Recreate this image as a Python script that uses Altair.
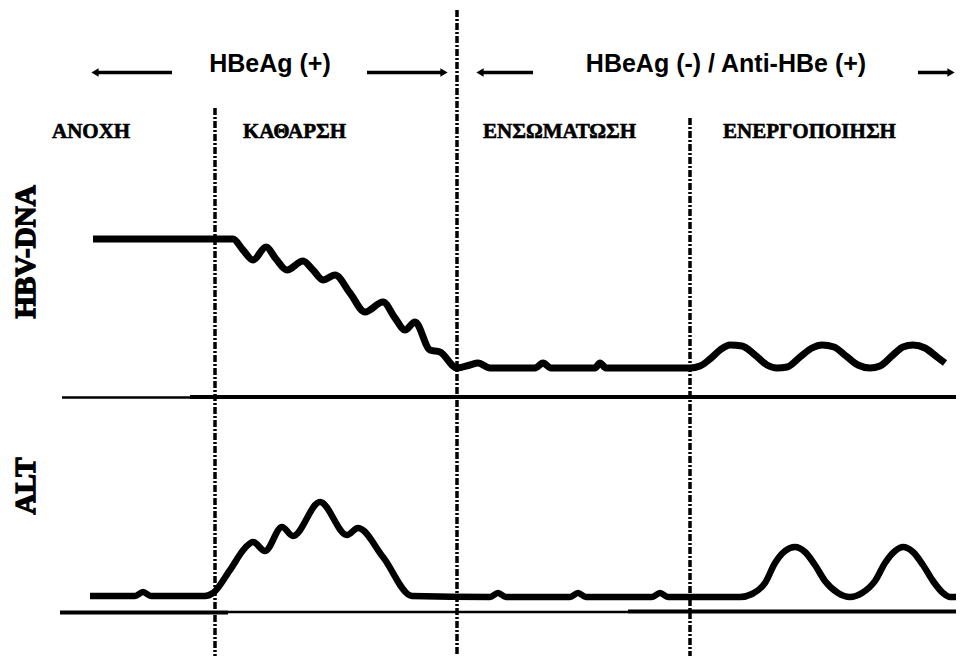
import altair as alt
import pandas as pd

# ---------------- data ----------------
# time axis in arbitrary units; level = height above each panel's baseline
hbv_t = [93, 233, 243, 253, 266, 276, 287, 303, 313, 323, 335, 350, 365, 383, 395,
         405, 415, 430, 440, 457, 470, 478, 490, 535, 543, 551, 595, 600, 606, 690,
         700, 710, 720, 730, 742, 755, 767, 777, 787, 800, 812, 822, 834, 846, 858,
         870, 880, 893, 903, 913, 925, 937, 945]
hbv_level = [158, 158, 147, 137, 150, 138, 127, 136, 127, 117, 122, 104, 85, 95, 79,
             67, 75, 47, 45, 29, 32, 34, 29, 29, 34, 29, 29, 34, 29, 29,
             31, 38, 47, 52, 51, 42, 32, 29, 30, 40, 49, 52, 50, 41, 32,
             29, 31, 42, 50, 52, 49, 40, 34]

alt_t = [90, 135, 143, 151, 205, 213, 230, 245, 253, 265, 282, 293, 320, 347, 358,
         383, 412, 490, 498, 506, 570, 578, 586, 652, 660, 668, 740, 752, 765, 775,
         785, 795, 805, 815, 825, 838, 850, 862, 875, 885, 895, 903, 913, 923, 933,
         943, 950, 964]
alt_level = [17, 17, 21, 17, 17, 20, 43, 65, 71, 62, 86, 77, 111, 78, 85,
             56, 17, 16, 20, 16, 16, 20, 16, 16, 20, 16, 16, 19, 30, 50,
             62, 66, 61, 48, 32, 20, 16, 20, 32, 50, 62, 66, 61, 48, 32,
             20, 16, 16]

phase_bounds = [215, 457, 690]
phase_names = ["ΑΝΟΧΗ", "ΚΑΘΑΡΣΗ", "ΕΝΣΩΜΑΤΩΣΗ", "ΕΝΕΡΓΟΠΟΙΗΣΗ"]
serology = ["HBeAg (+)", "HBeAg (-) / Anti-HBe (+)"]
panel_names = ["HBV-DNA", "ALT"]

# ---------------- layout helpers ----------------
W, H = 948, 648
TOP = 668 - 8
BOT = TOP - H
def Y(page_y):
    return 668 - page_y

HBV_BASE = Y(397)
ALT_BASE = Y(613)

xs = alt.Scale(domain=[8, 8 + W], nice=False, zero=False)
ys = alt.Scale(domain=[BOT, TOP], nice=False, zero=False)

def X_(f):
    return alt.X(f, type="quantitative", scale=xs, axis=None)
def Y_(f):
    return alt.Y(f, type="quantitative", scale=ys, axis=None)

hbv_df = pd.DataFrame({"t": hbv_t, "level": hbv_level})
hbv_df["y"] = hbv_df["level"] + HBV_BASE
alt_df = pd.DataFrame({"t": alt_t, "level": alt_level})
alt_df["y"] = alt_df["level"] + ALT_BASE

hbv_line = alt.Chart(hbv_df).mark_line(color="black", strokeWidth=7, interpolate="monotone",
                                       strokeJoin="round").encode(x=X_("t"), y=Y_("y"))
alt_line = alt.Chart(alt_df).mark_line(color="black", strokeWidth=6.5, interpolate="monotone",
                                       strokeJoin="round").encode(x=X_("t"), y=Y_("y"))

# phase boundaries (dashed)
vb = pd.DataFrame({"x": phase_bounds, "y1": [Y(108), Y(10), Y(118)], "y2": [BOT] * 3})
vlines = alt.Chart(vb).mark_rule(color="black", strokeWidth=3.5, strokeDash=[7, 2, 2, 2]).encode(
    x=X_("x"), y=Y_("y1"), y2="y2:Q")

# baselines
def hrule(x1, x2, yy, w):
    d = pd.DataFrame({"x1": [x1], "x2": [x2], "y": [yy]})
    return alt.Chart(d).mark_rule(color="black", strokeWidth=w).encode(x=X_("x1"), x2="x2:Q", y=Y_("y"))

base_rules = [
    hrule(62, 190, Y(397.5), 2.5), hrule(190, 964, Y(397), 4),
    hrule(60, 228, Y(612.5), 4), hrule(228, 628, Y(612), 2.5), hrule(628, 964, Y(611.5), 4),
]

# arrows
def shaft(x1, x2, yy):
    d = pd.DataFrame({"x1": [x1], "x2": [x2], "y": [yy]})
    return alt.Chart(d).mark_rule(color="black", strokeWidth=3.5).encode(x=X_("x1"), x2="x2:Q", y=Y_("y"))

def head(x, yy, shape):
    d = pd.DataFrame({"x": [x], "y": [yy]})
    return alt.Chart(d).mark_point(shape=shape, filled=True, color="black", opacity=1, size=70).encode(
        x=X_("x"), y=Y_("y"))

AY = Y(72.5)
arrows = [
    shaft(96, 172, AY), head(95, AY, "triangle-left"),
    shaft(367, 443, AY), head(444, AY, "triangle-right"),
    shaft(480, 533, AY), head(480, AY, "triangle-left"),
    shaft(918, 950, AY), head(951, AY, "triangle-right"),
]

# texts
def label(text, x, yy, size, font, align="center", baseline="alphabetic", angle=0, sw=0.0):
    d = pd.DataFrame({"x": [x], "y": [yy], "txt": [text]})
    kw = dict(fontSize=size, font=font, fontWeight="bold", color="black", align=align, baseline=baseline)
    if angle:
        kw["angle"] = angle
    if sw:
        kw["stroke"] = "black"
        kw["strokeWidth"] = sw
    return alt.Chart(d).mark_text(**kw).encode(x=X_("x"), y=Y_("y"), text="txt:N")

texts = [
    label(serology[0], 270, Y(72), 25, "Liberation Sans"),
    label(serology[1], 726, Y(72), 25, "Liberation Sans"),
    label(phase_names[0], 52, Y(138), 21, "Liberation Serif", align="left", sw=0.6),
    label(phase_names[1], 243, Y(138), 21, "Liberation Serif", align="left", sw=0.6),
    label(phase_names[2], 483, Y(138), 21, "Liberation Serif", align="left", sw=0.6),
    label(phase_names[3], 723, Y(138), 21, "Liberation Serif", align="left", sw=0.6),
    label(panel_names[0], 26, Y(252), 29, "Liberation Serif", baseline="middle", angle=270, sw=1.4),
    label(panel_names[1], 26, Y(486), 29, "Liberation Serif", baseline="middle", angle=270, sw=1.4),
]

chart = alt.layer(*base_rules, vlines, hbv_line, alt_line, *arrows, *texts).properties(
    width=W, height=H, padding=0, autosize=alt.AutoSizeParams(type="none")
).configure_view(strokeWidth=0)

chart.save("out.html", embed_options={"renderer": "svg", "actions": False})
